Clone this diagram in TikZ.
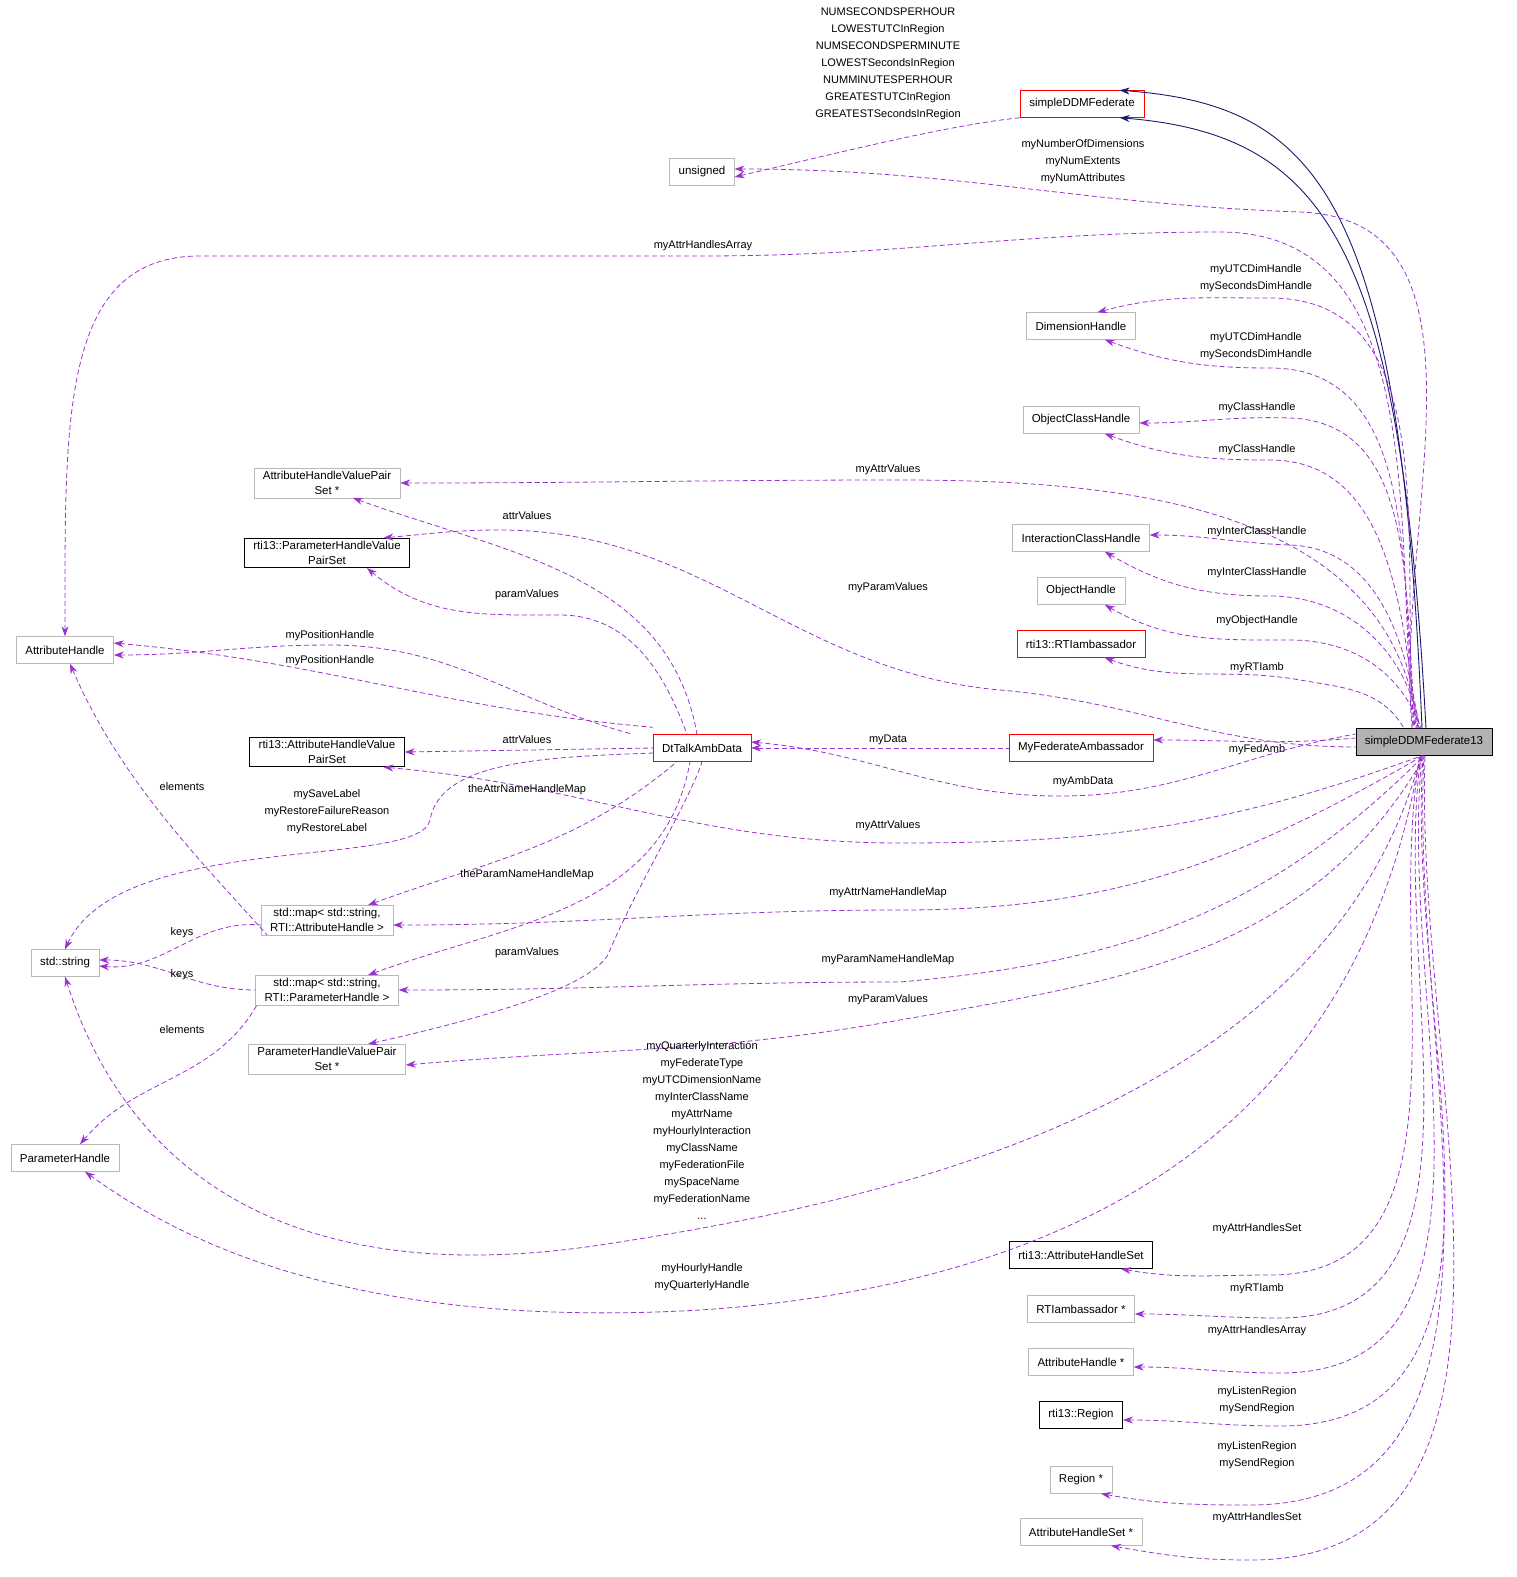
\documentclass[tikz,border=0pt]{standalone}
\usepackage{fontspec}
\setmainfont{Liberation Sans}
\usetikzlibrary{arrows.meta}
\definecolor{dep}{RGB}{154,50,205}
\definecolor{inh}{RGB}{25,25,112}
\begin{document}
\begin{tikzpicture}[x=1pt,y=-1pt,
  font=\fontsize{11.5}{15}\selectfont,
  box/.style={draw=gray!55,fill=white,inner xsep=9pt,inner ysep=4pt,align=center,minimum height=27pt},
  rbox/.style={box,draw=red},
  bbox/.style={box,draw=black,line width=0.8pt},
  lab/.style={align=center,inner sep=0pt,font=\fontsize{11}{17}\selectfont},
  d/.style={draw=dep,line width=0.8pt,dash pattern=on 5pt off 3pt,{Stealth[length=10pt,width=7pt]}-},
  n/.style={draw=inh,line width=0.9pt,{Stealth[length=10pt,width=7pt]}-}]
\useasboundingbox (0,0) rectangle (1517,1577);
% nodes
\node[rbox] (sdf) at (1082,104) {simpleDDMFederate};
\node[box] (uns) at (702,172) {unsigned};
\node[box] (dh) at (1081,326) {DimensionHandle};
\node[box] (och) at (1081,420) {ObjectClassHandle};
\node[box,inner ysep=3pt] (ahvps) at (327,483) {AttributeHandleValuePair\\Set *};
\node[bbox,inner ysep=3pt] (phvps13) at (327,553) {rti13::ParameterHandleValue\\PairSet};
\node[box] (ich) at (1081,538) {InteractionClassHandle};
\node[box] (oh) at (1081,591) {ObjectHandle};
\node[rbox] (rtia13) at (1081,644) {rti13::RTIambassador};
\node[box] (ah) at (65,650) {AttributeHandle};
\node[bbox,inner ysep=3pt] (ahvps13) at (327,752) {rti13::AttributeHandleValue\\PairSet};
\node[rbox] (dt) at (702,748) {DtTalkAmbData};
\node[rbox] (mfa) at (1081,748) {MyFederateAmbassador};
\node[draw=black,fill=gray!60,inner xsep=9pt,minimum height=27pt] (s13) at (1424,742) {simpleDDMFederate13};
\node[box,inner ysep=3pt] (mapa) at (327,920) {std::map< std::string,\\RTI::AttributeHandle >};
\node[box] (str) at (65,963) {std::string};
\node[box,inner ysep=3pt] (mapp) at (327,990) {std::map< std::string,\\RTI::ParameterHandle >};
\node[box,inner ysep=3pt] (phvps) at (327,1059) {ParameterHandleValuePair\\Set *};
\node[box] (ph) at (65,1158) {ParameterHandle};
\node[bbox] (ahs13) at (1081,1255) {rti13::AttributeHandleSet};
\node[box] (rtiap) at (1081,1309) {RTIambassador *};
\node[box] (ahp) at (1081,1362) {AttributeHandle *};
\node[bbox] (reg13) at (1081,1415) {rti13::Region};
\node[box] (regp) at (1081,1480) {Region *};
\node[box] (ahsp) at (1081,1532) {AttributeHandleSet *};
% inheritance
\draw[n] (sdf.20) .. controls (1320,105) and (1400,200) .. ([xshift=-2]s13.north);
\draw[n] (sdf.-20) .. controls (1330,135) and (1400,250) .. ([xshift=2]s13.north);
% from simpleDDMFederate
\draw[d] ([yshift=-5]uns.east) .. controls (850,150) and (950,125) .. (sdf.south west);
\node[lab] (l0) at (888,64) {NUMSECONDSPERHOUR\\LOWESTUTCInRegion\\NUMSECONDSPERMINUTE\\LOWESTSecondsInRegion\\NUMMINUTESPERHOUR\\GREATESTUTCInRegion\\GREATESTSecondsInRegion};
% from s13 (upper)
\draw[d] ([yshift=3]uns.east) to[out=0,in=178] (1300,212) to[out=-2,in=95] ([xshift=-12]s13.north);
\node[lab] (l1) at (1083,162) {myNumberOfDimensions\\myNumExtents\\myNumAttributes};
\draw[d] (ah.north) .. controls (65,420) and (60,256) .. (200,256) -- (700,256) to[out=0,in=180] (1220,232) to[out=0,in=95] ([xshift=-11]s13.north);
\node[lab] (l2) at (703,246) {myAttrHandlesArray};
\draw[d] (dh.40) to[out=15,in=180] (1270,298) to[out=0,in=95] ([xshift=-10]s13.north);
\node[lab] (l3) at (1256,278) {myUTCDimHandle\\mySecondsDimHandle};
\draw[d] (dh.-30) to[out=-20,in=180] (1270,368) to[out=0,in=96] ([xshift=-9]s13.north);
\node[lab] (l4) at (1256,346) {myUTCDimHandle\\mySecondsDimHandle};
\draw[d] ([yshift=-3]och.east) to[out=0,in=178] (1290,418) to[out=-2,in=96] ([xshift=-8]s13.north);
\node[lab] (l5) at (1257,408) {myClassHandle};
\draw[d] (och.-30) to[out=-20,in=180] (1270,460) to[out=0,in=97] ([xshift=-7]s13.north);
\node[lab] (l6) at (1257,450) {myClassHandle};
\draw[d] (ahvps.east) to[out=0,in=180] (900,480) to[out=0,in=97] ([xshift=-6]s13.north);
\node[lab] (l7) at (888,470) {myAttrValues};
\draw[d] (phvps13.15) to[out=5,in=180] (500,530) to[out=0,in=175] (1000,690) to[out=-5,in=180] ([yshift=-5]s13.west);
\node[lab] (l8) at (888,588) {myParamValues};
\draw[d] ([yshift=3]ich.east) to[out=0,in=178] (1290,545) to[out=-2,in=98] ([xshift=-5]s13.north);
\node[lab] (l9) at (1257,532) {myInterClassHandle};
\draw[d] (ich.-30) to[out=-30,in=180] (1270,596) to[out=0,in=100] ([xshift=-4]s13.north);
\node[lab] (l10) at (1257,573) {myInterClassHandle};
\draw[d] (oh.-30) to[out=-30,in=180] (1290,640) to[out=0,in=110] ([xshift=-3]s13.north);
\node[lab] (l11) at (1257,621) {myObjectHandle};
\draw[d] (rtia13.-30) to[out=-20,in=170] (1300,680) to[out=-10,in=120] ([xshift=-20]s13.north);
\node[lab] (l12) at (1257,668) {myRTIamb};
\draw[d] ([yshift=8]mfa.east) to[out=0,in=185] ([yshift=4]s13.west);
\node[lab] (l13) at (1257,750) {myFedAmb};
\draw[d] ([yshift=6]dt.east) to[out=-5,in=180] (1060,796) to[out=0,in=190] ([yshift=8]s13.west);
\node[lab] (l14) at (1083,782) {myAmbData};
% s13 lower edges
\draw[d] (ahvps13.-15) to[out=-5,in=180] (900,843) to[out=0,in=200] ([xshift=-2]s13.south);
\node[lab] (l15) at (888,826) {myAttrValues};
\draw[d] ([yshift=-5]mapa.east) to[out=0,in=180] (900,910) to[out=0,in=210] ([xshift=-1]s13.south);
\node[lab] (l16) at (888,893) {myAttrNameHandleMap};
\draw[d] (mapp.east) to[out=0,in=180] (900,982) to[out=5,in=225] (s13.south);
\node[lab] (l17) at (888,960) {myParamNameHandleMap};
\draw[d] ([yshift=-6]phvps.east) to[out=5,in=190] (900,1020) to[out=10,in=240] ([xshift=1]s13.south);
\node[lab] (l18) at (888,1000) {myParamValues};
\draw[d] (str.south) .. controls (130,1180) and (300,1290) .. (600,1245) .. controls (900,1200) and (1330,1100) .. ([xshift=-3]s13.south);
\node[lab] (l19) at (702,1130) {myQuarterlyInteraction\\myFederateType\\myUTCDimensionName\\myInterClassName\\myAttrName\\myHourlyInteraction\\myClassName\\myFederationFile\\mySpaceName\\myFederationName\\...};
\draw[d] ([xshift=20]ph.south) .. controls (180,1240) and (350,1330) .. (700,1310) .. controls (1000,1290) and (1350,1180) .. ([xshift=-4]s13.south);
\node[lab] (l20) at (702,1277) {myHourlyHandle\\myQuarterlyHandle};
\draw[d] ([xshift=40]ahs13.south) to[out=-10,in=180] (1270,1275) to[out=0,in=-100] ([xshift=-4]s13.south);
\node[lab] (l21) at (1257,1229) {myAttrHandlesSet};
\draw[d] ([yshift=-5]rtiap.east) to[out=0,in=180] (1280,1318) to[out=0,in=-98] ([xshift=-3]s13.south);
\node[lab] (l22) at (1257,1289) {myRTIamb};
\draw[d] ([yshift=-5]ahp.east) to[out=0,in=180] (1280,1373) to[out=0,in=-96] ([xshift=-2]s13.south);
\node[lab] (l23) at (1257,1331) {myAttrHandlesArray};
\draw[d] ([yshift=-5]reg13.east) to[out=0,in=180] (1280,1426) to[out=0,in=-94] ([xshift=-1]s13.south);
\node[lab] (l24) at (1257,1400) {myListenRegion\\mySendRegion};
\draw[d] ([xshift=20]regp.south) to[out=-10,in=180] (1250,1505) to[out=0,in=-93] (s13.south);
\node[lab] (l25) at (1257,1455) {myListenRegion\\mySendRegion};
\draw[d] ([xshift=30]ahsp.south) to[out=-10,in=180] (1250,1560) to[out=0,in=-92] ([xshift=1]s13.south);
\node[lab] (l26) at (1257,1518) {myAttrHandlesSet};
% DtTalkAmbData edges
\draw[d] (dt.east) -- (mfa.west);
\node[lab] (l27) at (888,740) {myData};
\draw[d] (ahvps.-30) to[out=-20,in=100] ([xshift=-5]dt.north);
\node[lab] (l28) at (527,516) {attrValues};
\draw[d] ([xshift=40]phvps13.south) to[out=-40,in=180] (560,615) to[out=0,in=110] ([xshift=-15]dt.north);
\node[lab] (l29) at (527,595) {paramValues};
\draw[d] ([yshift=-5]ah.east) to[out=0,in=180] (330,645) to[out=0,in=165] ([xshift=-20]dt.north west);
\node[lab] (l30) at (330,636) {myPositionHandle};
\draw[d] ([yshift=7]ah.east) to[out=-5,in=175] ([yshift=7]dt.north west);
\node[lab] (l31) at (330,661) {myPositionHandle};
\draw[d] (ahvps13.east) -- (dt.west);
\node[lab] (l32) at (527,740) {attrValues};
\draw[d] (str.north) .. controls (120,830) and (420,870) .. (430,820) .. controls (440,760) and (550,757) .. ([yshift=-5]dt.west);
\node[lab] (l33) at (327,812) {mySaveLabel\\myRestoreFailureReason\\myRestoreLabel};
\draw[d] (mapa.20) to[out=20,in=-140] ([xshift=-25]dt.south);
\node[lab] (l34) at (527,790) {theAttrNameHandleMap};
\draw[d] (mapp.20) to[out=20,in=-100] ([xshift=-12]dt.south);
\node[lab] (l35) at (527,875) {theParamNameHandleMap};
\draw[d] (phvps.20) .. controls (520,1010) and (600,980) .. (610,950) .. controls (640,880) and (690,800) .. (dt.south);
\node[lab] (l36) at (527,953) {paramValues};
% std::map edges
\draw[d] ([xshift=5]ah.south) .. controls (120,780) and (200,860) .. ([xshift=-60]mapa.south);
\node[lab] (l37) at (182,787) {elements};
\draw[d] ([yshift=-3]str.east) to[out=-5,in=175] ([yshift=-5]mapa.west);
\node[lab] (l38) at (182,933) {keys};
\draw[d] ([yshift=3]str.east) to[out=0,in=180] (mapp.west);
\node[lab] (l39) at (182,975) {keys};
\draw[d] ([xshift=15]ph.north) to[out=50,in=-120] ([xshift=-70]mapp.south);
\node[lab] (l40) at (182,1030) {elements};
\end{tikzpicture}
\end{document}
